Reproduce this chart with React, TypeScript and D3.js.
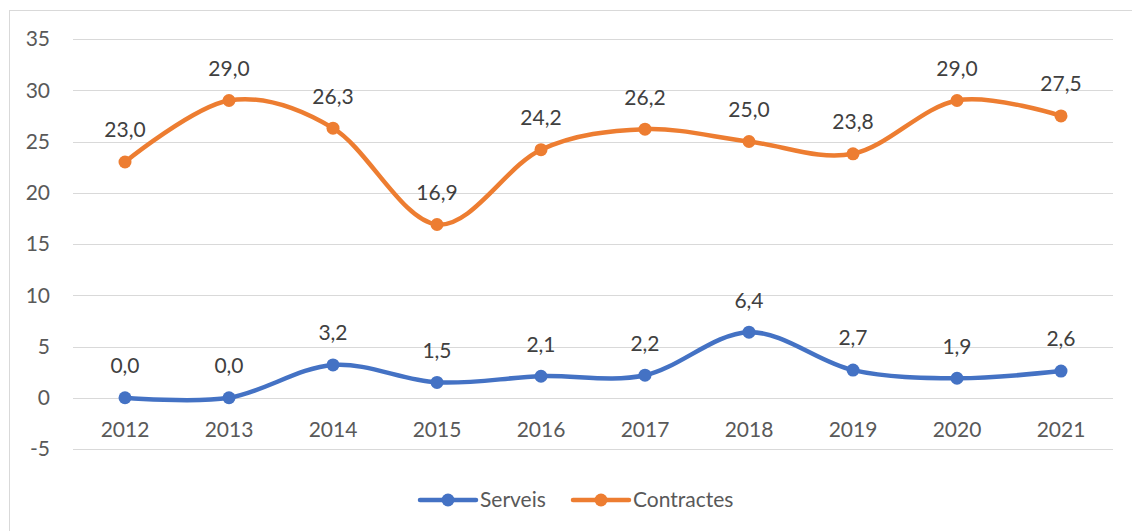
import * as d3 from "d3";
import { useEffect, useRef } from "react";

const years = ["2012", "2013", "2014", "2015", "2016", "2017", "2018", "2019", "2020", "2021"];
const serveis = [0.0, 0.0, 3.2, 1.5, 2.1, 2.2, 6.4, 2.7, 1.9, 2.6];
const contractes = [23.0, 29.0, 26.3, 16.9, 24.2, 26.2, 25.0, 23.8, 29.0, 27.5];
const yTicks = [-5, 0, 5, 10, 15, 20, 25, 30, 35];

const series = [
  { name: "Serveis", values: serveis, color: "#4472C4" },
  { name: "Contractes", values: contractes, color: "#ED7D31" },
];

const W = 1132;
const H = 531;
const FONT = "Lato, 'Open Sans', sans-serif";
const FS = 21;

const App = () => {
  const svgRef = useRef<SVGSVGElement>(null);

  useEffect(() => {
    const svg = d3.select(svgRef.current);
    svg.selectAll("*").remove();

    // marc del gràfic
    svg.append("rect")
      .attr("x", 9.5).attr("y", 10.5)
      .attr("width", W + 20).attr("height", H + 20)
      .attr("fill", "white").attr("stroke", "#d9d9d9");

    const x = d3.scaleBand().domain(years).range([73, 1113]);
    const y = d3.scaleLinear().domain([-5, 35]).range([449, 39]);
    const cx = (d: string) => (x(d) ?? 0) + x.bandwidth() / 2;

    // graella
    svg.append("g").selectAll("line")
      .data(yTicks)
      .enter()
      .append("line")
      .attr("x1", 73).attr("x2", 1113)
      .attr("y1", (d) => Math.round(y(d)) + 0.5)
      .attr("y2", (d) => Math.round(y(d)) + 0.5)
      .attr("stroke", "#d9d9d9").attr("stroke-width", 1);

    svg.append("g").selectAll("text")
      .data(yTicks)
      .enter()
      .append("text")
      .attr("x", 50).attr("y", (d) => y(d))
      .attr("dy", "0.35em")
      .attr("text-anchor", "end")
      .attr("font-family", FONT).attr("font-size", FS)
      .attr("fill", "#595959")
      .text((d) => d);

    // etiquetes d'anys
    svg.append("g").selectAll("text")
      .data(years)
      .enter()
      .append("text")
      .attr("x", cx).attr("y", y(0) + 32)
      .attr("dy", "0.35em")
      .attr("text-anchor", "middle")
      .attr("font-family", FONT).attr("font-size", FS)
      .attr("fill", "#595959")
      .text((d) => d);

    const line = d3.line<number>()
      .x((_, i) => cx(years[i]))
      .y((d) => y(d))
      .curve(d3.curveCardinal.tension(0));

    series.forEach((s) => {
      const g = svg.append("g");
      g.append("path")
        .attr("d", line(s.values))
        .attr("fill", "none")
        .attr("stroke", s.color)
        .attr("stroke-width", 4.5)
        .attr("stroke-linecap", "round");
      g.selectAll("circle")
        .data(s.values)
        .enter()
        .append("circle")
        .attr("cx", (_, i) => cx(years[i]))
        .attr("cy", (d) => y(d))
        .attr("r", 6.5)
        .attr("fill", s.color);
      g.selectAll("text")
        .data(s.values)
        .enter()
        .append("text")
        .attr("x", (_, i) => cx(years[i]))
        .attr("y", (d) => y(d) - 32)
        .attr("dy", "0.35em")
        .attr("text-anchor", "middle")
        .attr("font-family", FONT).attr("font-size", FS)
        .attr("fill", "#404040")
        .text((d) => d3.format(".1f")(d).replace(".", ","));
    });

    // llegenda
    const legend = [
      { ...series[0], x0: 420 },
      { ...series[1], x0: 573 },
    ];
    legend.forEach((l) => {
      const g = svg.append("g");
      g.append("line")
        .attr("x1", l.x0).attr("x2", l.x0 + 56)
        .attr("y1", 500).attr("y2", 500)
        .attr("stroke", l.color).attr("stroke-width", 4.5)
        .attr("stroke-linecap", "round");
      g.append("circle")
        .attr("cx", l.x0 + 28).attr("cy", 500).attr("r", 6.5)
        .attr("fill", l.color);
      g.append("text")
        .attr("x", l.x0 + 60).attr("y", 500)
        .attr("dy", "0.35em")
        .attr("font-family", FONT).attr("font-size", FS)
        .attr("fill", "#595959")
        .text(l.name);
    });
  }, []);

  return <svg ref={svgRef} width={W} height={H} style={{ position: "absolute", left: 0, top: 0 }}></svg>;
};

export default App;
